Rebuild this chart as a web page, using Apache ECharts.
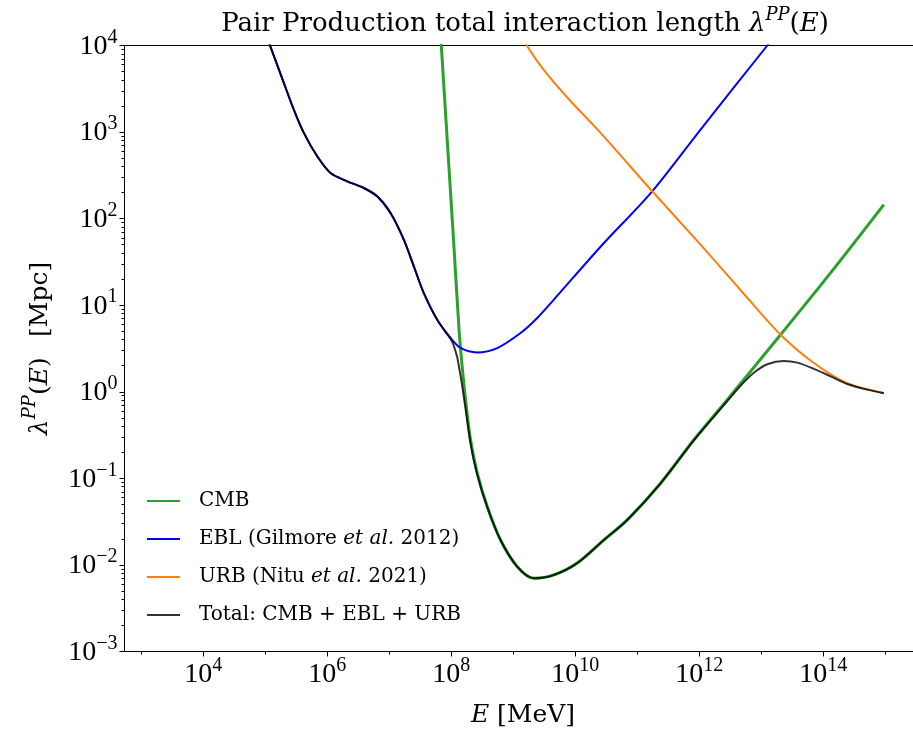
<!DOCTYPE html>
<html>
<head>
<meta charset="utf-8">
<script src="https://cdn.jsdelivr.net/npm/echarts@6/dist/echarts.min.js"></script>
<style>
  html, body { margin: 0; padding: 0; background: #fff; }
  #chart { width: 913px; height: 735px; }
</style>
</head>
<body>
<div id="chart"></div>
<script>
// Photon energies are stored as log10(E / MeV); interaction lengths in Mpc.
const cmbLogE = [7.819, 7.844, 7.940, 8.037, 8.126, 8.174, 8.231, 8.311, 8.419, 8.581, 8.795, 9.065, 9.332, 9.655, 10.032, 10.461, 10.839, 11.376, 11.913, 12.452, 13.311, 14.118, 14.977];
const cmbLambda = [1.53e4, 8.99e3, 716, 57.2, 5.21, 2.05, 0.809, 0.279, 0.116, 0.0472, 0.0194, 0.00955, 0.00702, 0.00766, 0.0105, 0.0194, 0.0331, 0.0879, 0.279, 0.809, 4.56, 23.6, 145];

const eblLogE = [4.982, 5.300, 5.461, 5.623, 5.839, 6.053, 6.323, 6.590, 6.806, 7.021, 7.235, 7.397, 7.558, 7.774, 7.989, 8.150, 8.419, 8.742, 9.118, 9.387, 9.655, 10.408, 11.242, 12.021, 13.097, 13.300];
const eblLambda = [1.53e4, 3.71e3, 1.82e3, 979, 525, 337, 270, 226, 181, 116, 57.2, 28.1, 13.8, 6.79, 4.18, 3.21, 2.85, 3.20, 4.77, 7.12, 11.6, 47.4, 207, 1.07e3, 1.0e4, 1.53e4];

const urbLogE = [9.085, 9.252, 9.489, 9.871, 10.408, 11.242, 12.021, 12.774, 13.311, 13.848, 14.387, 14.977];
const urbLambda = [1.53e4, 9.16e3, 5.28e3, 2.51e3, 979, 207, 50.0, 12.2, 4.56, 2.15, 1.26, 0.97];

const totalLogE = [4.982, 5.300, 5.461, 5.623, 5.839, 6.053, 6.323, 6.590, 6.806, 7.021, 7.235, 7.397, 7.558, 7.774, 7.989, 8.037, 8.097, 8.126, 8.174, 8.231, 8.311, 8.419, 8.581, 8.795, 9.065, 9.332, 9.655, 10.032, 10.461, 10.839, 11.376, 11.913, 12.452, 12.669, 12.881, 13.097, 13.365, 13.581, 13.848, 14.118, 14.387, 14.655, 14.977];
const totalLambda = [1.53e4, 3.71e3, 1.82e3, 979, 525, 337, 270, 226, 181, 116, 57.2, 28.1, 13.8, 6.79, 4.10, 3.47, 2.50, 1.92, 1.21, 0.633, 0.254, 0.111, 0.0464, 0.0194, 0.00955, 0.00702, 0.00766, 0.0105, 0.0194, 0.0331, 0.0876, 0.275, 0.781, 1.18, 1.66, 2.08, 2.27, 2.17, 1.84, 1.51, 1.23, 1.08, 0.96];

// Axis decorations (exponents of ten)
const xMajorTicks = [4, 6, 8, 10, 12, 14];
const xMinorTicks = [3, 5, 7, 9, 11, 13, 15];
const yMajorTicks = [-3, -2, -1, 0, 1, 2, 3, 4];
const xRange = [2.731, 15.584];
const yRange = [-3, 4];

const yMinorTicks = [];
for (let d = yRange[0]; d < yRange[1]; d++) {
  for (let m = 2; m <= 9; m++) yMinorTicks.push(d + Math.log10(m));
}

const FONT = 'DejaVu Serif';
const NUM_FONT = 'Liberation Serif';
const pairs = (xs, ys) => xs.map((x, i) => [x, Math.log10(ys[i])]);
const powLabel = v => {
  const e = Math.round(v);
  return '{b|10}{s|' + (e < 0 ? '\u2212' + (-e) : e) + '}';
};
const powRich = {
  b: { fontFamily: NUM_FONT, fontSize: 28, fontWeight: 'normal', lineHeight: 30, verticalAlign: 'bottom', color: '#000' },
  s: { fontFamily: NUM_FONT, fontSize: 20, fontWeight: 'normal', lineHeight: 20, verticalAlign: 'bottom', padding: [0, 0, 13, 0], color: '#000' }
};
const mathRich = (size) => ({
  n: { fontFamily: FONT, fontSize: size, fontWeight: 'normal', lineHeight: 30, verticalAlign: 'bottom', color: '#000' },
  it: { fontFamily: FONT, fontSize: size, fontWeight: 'normal', fontStyle: 'italic', lineHeight: 30, verticalAlign: 'bottom', color: '#000' },
  sup: { fontFamily: FONT, fontSize: Math.round(size * 0.7), fontWeight: 'normal', fontStyle: 'italic', lineHeight: 20, verticalAlign: 'bottom', padding: [0, 0, 13, 0], color: '#000' }
});

const chart = echarts.init(document.getElementById('chart'), null, { renderer: 'canvas' });

const lineSeries = (name, xs, ys, color, width) => ({
  name, type: 'line', data: pairs(xs, ys),
  xAxisIndex: 0, yAxisIndex: 0,
  symbol: 'none', smooth: 0.3, clip: true,
  lineStyle: { color, width }, itemStyle: { color },
  emphasis: { disabled: true }, animation: false
});

chart.setOption({
  backgroundColor: '#fff',
  animation: false,
  title: {
    text: '{n|Pair Production total interaction length }{it|\u03bb}{sup|PP}{n|(}{it|E}{n|)}',
    left: 520, top: 2, textAlign: 'center',
    textStyle: { fontWeight: 'normal', fontFamily: FONT, rich: mathRich(26) }
  },
  grid: {
    left: 124.5, width: 797, top: 45.5, height: 606,
    outerBoundsMode: 'none',
    show: true, borderColor: '#000', borderWidth: 1, containLabel: false
  },
  legend: {
    orient: 'vertical', left: 146, top: 491, itemWidth: 33, itemHeight: 14, itemGap: 18,
    padding: 0, selectedMode: false,
    itemStyle: { opacity: 0 },
    textStyle: {
      fontFamily: FONT, fontSize: 20, color: '#000', padding: [0, 0, 0, 14],
      rich: { i: { fontFamily: FONT, fontSize: 20, fontStyle: 'italic', color: '#000' } }
    },
    formatter: name => name.replace('et al.', '{i|et al.}'),
    data: ['CMB', 'EBL (Gilmore et al. 2012)', 'URB (Nitu et al. 2021)', 'Total: CMB + EBL + URB']
  },
  xAxis: [
    {
      type: 'value', min: xRange[0], max: xRange[1], position: 'bottom',
      axisLine: { show: true, onZero: false, lineStyle: { color: '#000', width: 1 } },
      axisTick: { show: true, customValues: xMajorTicks, length: 5, lineStyle: { color: '#000' } },
      axisLabel: { customValues: xMajorTicks, formatter: powLabel, rich: powRich, margin: 7 },
      splitLine: { show: false },
      name: '{it|E}{n| [MeV]}', nameLocation: 'middle', nameGap: 46,
      nameTextStyle: { rich: mathRich(25) }
    },
    {
      type: 'value', min: xRange[0], max: xRange[1], position: 'bottom',
      axisLine: { show: false, onZero: false },
      axisTick: { show: true, customValues: xMinorTicks, length: 3, lineStyle: { color: '#000' } },
      axisLabel: { show: false }, splitLine: { show: false }
    }
  ],
  yAxis: [
    {
      type: 'value', min: yRange[0], max: yRange[1], position: 'left',
      axisLine: { show: true, onZero: false, lineStyle: { color: '#000', width: 1 } },
      axisTick: { show: true, customValues: yMajorTicks, length: 5, lineStyle: { color: '#000' } },
      axisLabel: { customValues: yMajorTicks, formatter: powLabel, rich: powRich, margin: 7 },
      splitLine: { show: false },
      name: '{it|\u03bb}{sup|PP}{n|(}{it|E}{n|)\u2002 [Mpc]}', nameLocation: 'middle', nameGap: 72, nameRotate: 90,
      nameTextStyle: { rich: mathRich(25) }
    },
    {
      type: 'value', min: yRange[0], max: yRange[1], position: 'left',
      axisLine: { show: false, onZero: false },
      axisTick: { show: true, customValues: yMinorTicks, length: 3, lineStyle: { color: '#000' } },
      axisLabel: { show: false }, splitLine: { show: false }
    }
  ],
  series: [
    lineSeries('CMB', cmbLogE, cmbLambda, '#2ca02c', 3),
    lineSeries('EBL (Gilmore et al. 2012)', eblLogE, eblLambda, '#0000ff', 2),
    lineSeries('URB (Nitu et al. 2021)', urbLogE, urbLambda, '#ff7f0e', 2),
    lineSeries('Total: CMB + EBL + URB', totalLogE, totalLambda, 'rgba(0,0,0,0.8)', 2)
  ]
});
</script>
</body>
</html>
